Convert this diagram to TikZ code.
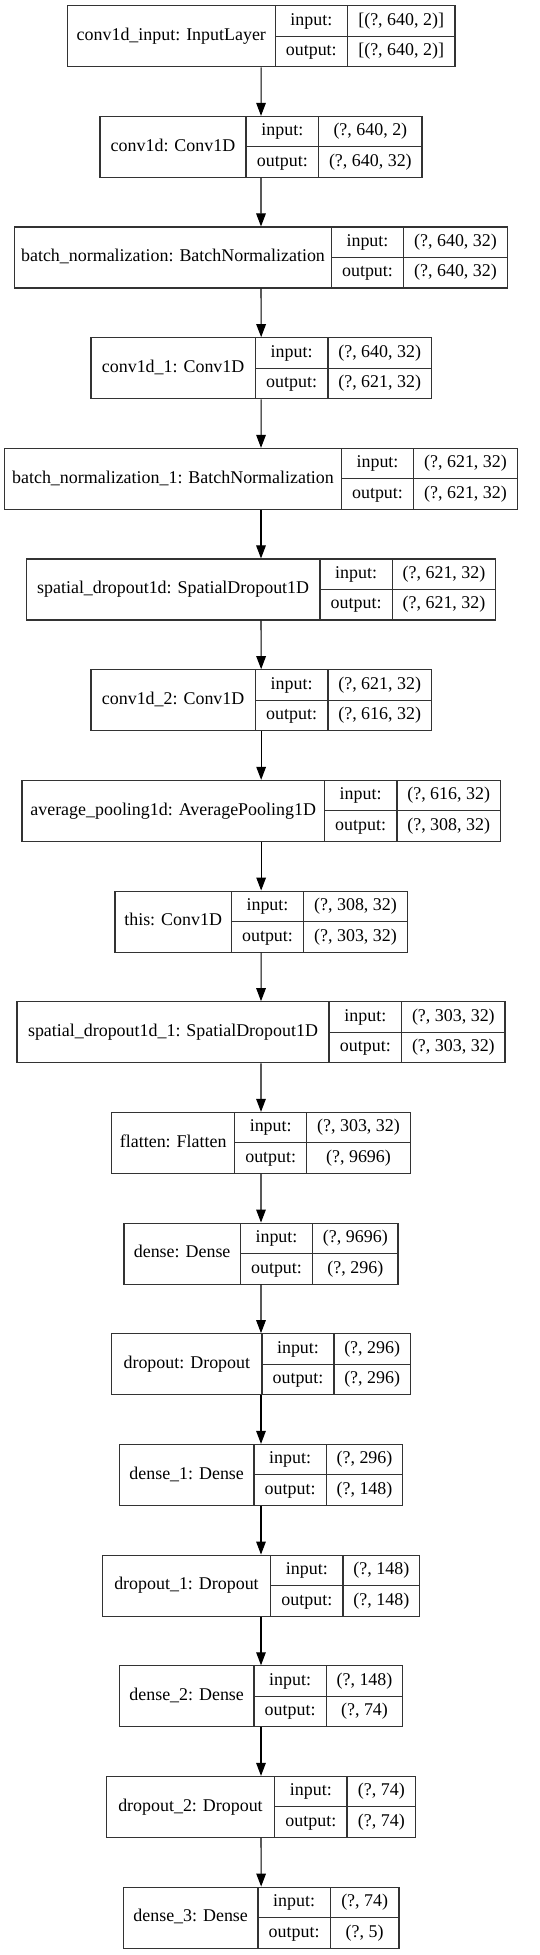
\documentclass[tikz,border=0pt]{standalone}
\usepackage{fontspec}
\setmainfont{Liberation Serif}
\usetikzlibrary{arrows.meta,fit}
\tikzset{
  boxst/.style={draw=black!80, line width=0.85pt, inner sep=0pt},
  divst/.style={draw=black!80, line width=0.85pt},
  txt/.style={font=\fontsize{13.45pt}{15pt}\selectfont, inner sep=0pt, text height=8.8pt, text depth=2.5pt},
  conn/.style={draw=black, line width=0.8pt, -{Triangle[length=9.75pt,width=7.2pt]}},
}
\newcommand{\layerbox}[9]{%
  \pgfmathsetmacro\lyT{#2}%
  \pgfmathsetmacro\lyB{#2+61}%
  \pgfmathsetmacro\lyM{#2+30.5}%
  \pgfmathsetmacro\lyU{#2+15.25}%
  \pgfmathsetmacro\lyD{#2+45.75}%
  \node[fit={(#3,\lyT) (#6,\lyB)}, boxst] (#1) {};
  \draw[divst] (#4,\lyT) -- (#4,\lyB) (#5,\lyT) -- (#5,\lyB) (#4,\lyM) -- (#6,\lyM);
  \node[txt] (#1n) at ({(#3+#4)/2},\lyM) {#7};
  \node[txt] (#1i) at ({(#4+#5)/2},\lyU) {input:};
  \node[txt] (#1o) at ({(#4+#5)/2},\lyD) {output:};
  \node[txt] (#1a) at ({(#5+#6)/2},\lyU) {#8};
  \node[txt] (#1b) at ({(#5+#6)/2},\lyD) {#9};
}
\begin{document}
\begin{tikzpicture}[x=0.75pt,y=-0.75pt]
\useasboundingbox (0,0) rectangle (539,1955);
\layerbox{L0}{5.7}{67.3}{275.3}{347.3}{455}{conv1d\_input: InputLayer}{[(?, 640, 2)]}{[(?, 640, 2)]}
\layerbox{L1}{116.4}{100}{246}{318.7}{422}{conv1d: Conv1D}{(?, 640, 2)}{(?, 640, 32)}
\layerbox{L2}{227.0}{14.7}{331.3}{403.7}{507.3}{batch\_normalization: BatchNormalization}{(?, 640, 32)}{(?, 640, 32)}
\layerbox{L3}{337.7}{91}{255.3}{328}{431.3}{conv1d\_1: Conv1D}{(?, 640, 32)}{(?, 621, 32)}
\layerbox{L4}{448.4}{4.7}{341.3}{413.7}{517.3}{batch\_normalization\_1: BatchNormalization}{(?, 621, 32)}{(?, 621, 32)}
\layerbox{L5}{559.0}{26.3}{320}{392.3}{495.7}{spatial\_dropout1d: SpatialDropout1D}{(?, 621, 32)}{(?, 621, 32)}
\layerbox{L6}{669.7}{91}{255.3}{328}{431.3}{conv1d\_2: Conv1D}{(?, 621, 32)}{(?, 616, 32)}
\layerbox{L7}{780.4}{22}{324.3}{397}{500.3}{average\_pooling1d: AveragePooling1D}{(?, 616, 32)}{(?, 308, 32)}
\layerbox{L8}{891.1}{115}{231.3}{303.7}{407.3}{this: Conv1D}{(?, 308, 32)}{(?, 303, 32)}
\layerbox{L9}{1001.7}{17}{329}{401.7}{505}{spatial\_dropout1d\_1: SpatialDropout1D}{(?, 303, 32)}{(?, 303, 32)}
\layerbox{L10}{1112.4}{111.7}{234.7}{306.7}{410.3}{flatten: Flatten}{(?, 303, 32)}{(?, 9696)}
\layerbox{L11}{1223.1}{124}{240.3}{312.7}{398}{dense: Dense}{(?, 9696)}{(?, 296)}
\layerbox{L12}{1333.7}{111.7}{262}{334}{410.3}{dropout: Dropout}{(?, 296)}{(?, 296)}
\layerbox{L13}{1444.4}{119.3}{254}{326.3}{402.7}{dense\_1: Dense}{(?, 296)}{(?, 148)}
\layerbox{L14}{1555.1}{102.3}{270.7}{343}{419.7}{dropout\_1: Dropout}{(?, 148)}{(?, 148)}
\layerbox{L15}{1665.8}{119.3}{254}{326.3}{402.7}{dense\_2: Dense}{(?, 148)}{(?, 74)}
\layerbox{L16}{1776.4}{106.3}{274.7}{347}{415.7}{dropout\_2: Dropout}{(?, 74)}{(?, 74)}
\layerbox{L17}{1887.1}{123.3}{258}{330.3}{399}{dense\_3: Dense}{(?, 74)}{(?, 5)}
\foreach \a/\b in {L0/L1,L1/L2,L2/L3,L3/L4,L4/L5,L5/L6,L6/L7,L7/L8,L8/L9,L9/L10,L10/L11,L11/L12,L12/L13,L13/L14,L14/L15,L15/L16,L16/L17}
  \draw[conn] (\a.south) -- (\b.north);
\end{tikzpicture}
\end{document}
